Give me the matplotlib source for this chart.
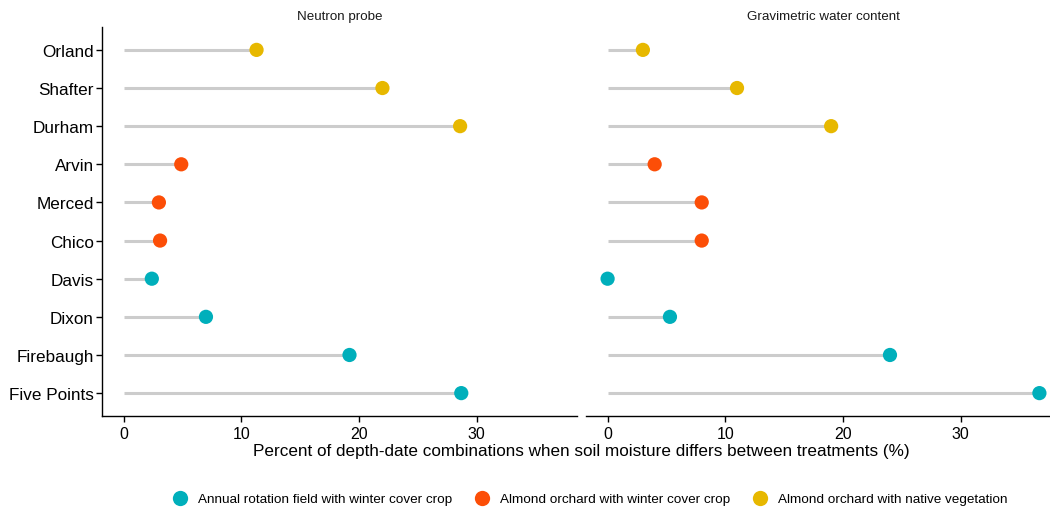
import matplotlib
matplotlib.use('Agg')
from matplotlib import pyplot as plt
from matplotlib.lines import Line2D

plt.rcParams['font.family'] = ['Liberation Sans', 'DejaVu Sans']

# sites, top to bottom
SITES = ['Orland', 'Shafter', 'Durham', 'Arvin', 'Merced', 'Chico',
         'Davis', 'Dixon', 'Firebaugh', 'Five Points']
GROUPS = ['native', 'native', 'native', 'almond_cc', 'almond_cc', 'almond_cc',
          'annual', 'annual', 'annual', 'annual']

neutron = [11.3, 22.0, 28.6, 4.9, 3.0, 3.1, 2.4, 7.0, 19.2, 28.7]
gravimetric = [3.0, 11.0, 19.0, 4.0, 8.0, 8.0, 0.0, 5.3, 24.0, 36.7]

PANELS = ['Neutron probe', 'Gravimetric water content']

COLORS = {
    'annual': '#00AFBB',
    'almond_cc': '#FC4E07',
    'native': '#E7B800',
}
LABELS = {
    'annual': 'Annual rotation field with winter cover crop',
    'almond_cc': 'Almond orchard with winter cover crop',
    'native': 'Almond orchard with native vegetation',
}

fig = plt.figure(figsize=(10.5, 5.1), dpi=100)
ax1 = fig.add_axes([102 / 1050, 1 - 417 / 510, 475 / 1050, 389 / 510])
ax2 = fig.add_axes([586 / 1050, 1 - 417 / 510, 475 / 1050, 389 / 510])

n = len(SITES)
ypos = [n - 1 - i for i in range(n)]
xmax = max(max(neutron), max(gravimetric))
pad = 0.05 * xmax

for ax, vals, title in zip([ax1, ax2], [neutron, gravimetric], PANELS):
    ax.hlines(ypos, 0, vals, color='#cccccc', linewidth=2.2, zorder=1)
    ax.scatter(vals, ypos, c=[COLORS[g] for g in GROUPS], s=105,
               zorder=3, linewidths=0, clip_on=False)
    ax.set_xlim(-pad, xmax + pad)
    ax.set_ylim(-0.6, n - 0.4)
    ax.set_xticks([0, 10, 20, 30])
    ax.tick_params(axis='x', labelsize=11.5, length=4, width=1, colors='black', pad=3)
    for s in ['top', 'right']:
        ax.spines[s].set_visible(False)
    ax.spines['bottom'].set_linewidth(1)
    ax.text(0.5, 1 + 11 / 389, title, transform=ax.transAxes, ha='center', va='center',
            fontsize=9.6, color='#1a1a1a')

ax1.set_yticks(ypos)
ax1.set_yticklabels(SITES)
ax1.tick_params(axis='y', labelsize=12.3, length=4, width=1, pad=2)
ax1.spines['left'].set_linewidth(1)

ax2.set_yticks([])
ax2.spines['left'].set_visible(False)

fig.text(581 / 1050, 1 - 452 / 510,
         'Percent of depth-date combinations when soil moisture differs between treatments (%)',
         ha='center', va='center', fontsize=12.3)

handles = [Line2D([], [], marker='o', linestyle='none', markersize=11,
                  markerfacecolor=COLORS[k], markeredgewidth=0, label=LABELS[k])
           for k in ['annual', 'almond_cc', 'native']]
fig.legend(handles=handles, loc='center', bbox_to_anchor=(590 / 1050, 1 - 500 / 510),
           ncol=3, frameon=False, fontsize=9.7, handletextpad=0.75, columnspacing=1.6,
           handlelength=1.2)

fig.savefig('out.png', dpi=100)
